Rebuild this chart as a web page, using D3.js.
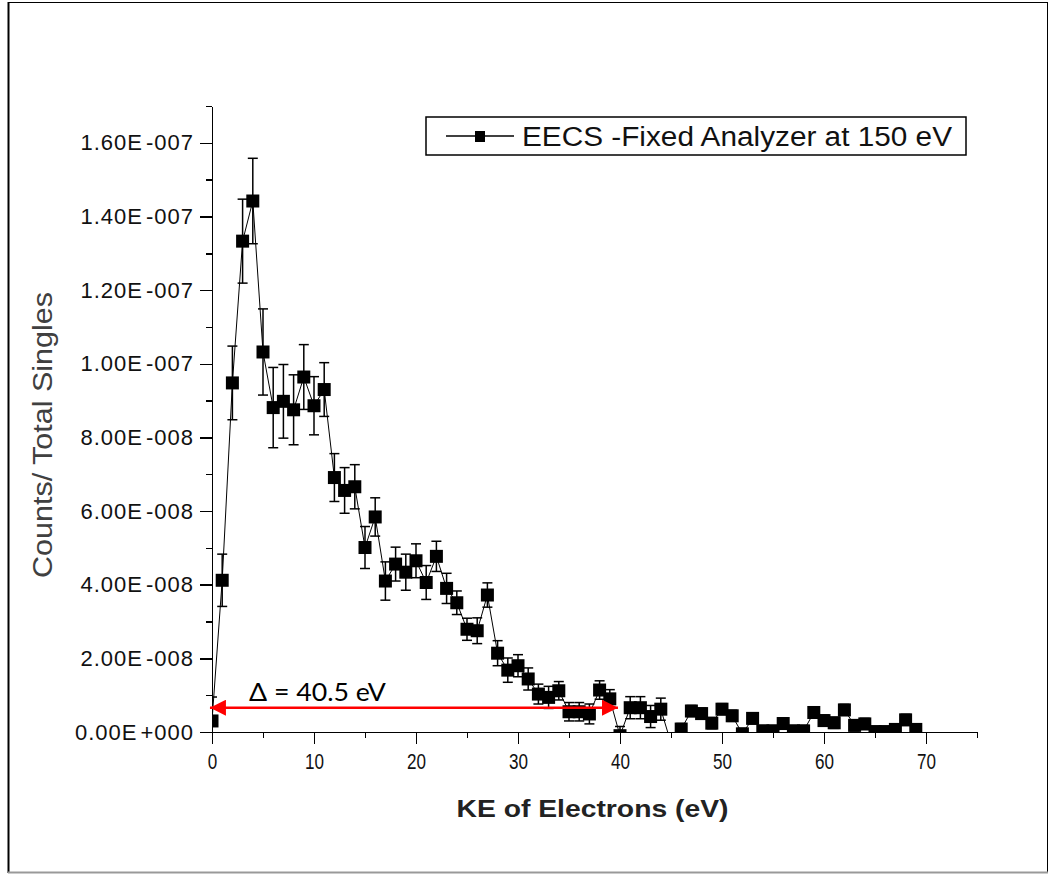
<!DOCTYPE html>
<meta charset="utf-8">
<style>
body { margin: 0; background: #fff; }

.axis path,
.axis line {
  fill: none;
  stroke: #000;
  stroke-width: 1.5;
  shape-rendering: crispEdges;
}
</style>
<body>
<div id="vis-container"></div>
<script src="https://d3js.org/d3.v7.min.js"></script>
<script>

// values (KE in eV, counts / total singles)
var ke = [0,1,2,3,4,5,6,7,8,9,10,11,12,13,14,15,16,17,18,19,20,21,22,23,24,25,26,27,28,29,
          30,31,32,33,34,35,36,37,38,39,40,41,42,43,44,45,46,47,48,49,50,51,52,53,54,55,56,57,58,59,
          60,61,62,63,64,65,66,67,68,69];
var counts = [0.30e-8,4.12e-8,9.48e-8,13.33e-8,14.42e-8,10.32e-8,8.81e-8,8.98e-8,8.75e-8,9.64e-8,
              8.86e-8,9.30e-8,6.91e-8,6.56e-8,6.66e-8,5.01e-8,5.84e-8,4.10e-8,4.56e-8,4.34e-8,
              4.65e-8,4.06e-8,4.77e-8,3.90e-8,3.51e-8,2.79e-8,2.75e-8,3.72e-8,2.14e-8,1.68e-8,
              1.80e-8,1.44e-8,1.03e-8,0.94e-8,1.12e-8,0.55e-8,0.55e-8,0.49e-8,1.14e-8,0.90e-8,
              -0.10e-8,0.66e-8,0.66e-8,0.42e-8,0.62e-8,-0.30e-8,0.08e-8,0.57e-8,0.50e-8,0.24e-8,
              0.62e-8,0.44e-8,-0.05e-8,0.37e-8,0.03e-8,0.03e-8,0.23e-8,0.03e-8,0.03e-8,0.53e-8,
              0.31e-8,0.25e-8,0.60e-8,0.18e-8,0.22e-8,0.01e-8,0.01e-8,0.07e-8,0.33e-8,0.07e-8];
var errors = [0.65e-8,0.71e-8,1.00e-8,1.14e-8,1.16e-8,1.17e-8,1.09e-8,1.00e-8,0.95e-8,0.88e-8,
              0.79e-8,0.73e-8,0.65e-8,0.62e-8,0.60e-8,0.57e-8,0.52e-8,0.52e-8,0.46e-8,0.49e-8,
              0.46e-8,0.46e-8,0.41e-8,0.41e-8,0.32e-8,0.30e-8,0.35e-8,0.33e-8,0.34e-8,0.33e-8,
              0.30e-8,0.30e-8,0.27e-8,0.30e-8,0.25e-8,0.25e-8,0.25e-8,0.27e-8,0.25e-8,0.25e-8,
              0.25e-8,0.30e-8,0.30e-8,0.30e-8,0.30e-8,0.15e-8,0.15e-8,0.15e-8,0.15e-8,0.15e-8,
              0.15e-8,0.15e-8,0.15e-8,0.15e-8,0.15e-8,0.15e-8,0.15e-8,0.15e-8,0.15e-8,0.15e-8,
              0.15e-8,0.15e-8,0.15e-8,0.15e-8,0.15e-8,0.15e-8,0.15e-8,0.15e-8,0.15e-8,0.15e-8];

var xMajor = [0,10,20,30,40,50,60,70];
var xMinor = [5,15,25,35,45,55,65,75];
var yMajor = [0,2e-8,4e-8,6e-8,8e-8,1.0e-7,1.2e-7,1.4e-7,1.6e-7];
var yMinor = [1e-8,3e-8,5e-8,7e-8,9e-8,1.1e-7,1.3e-7,1.5e-7,1.7e-7];

var xTitle = "KE of Electrons (eV)";
var yTitle = "Counts/ Total Singles";
var legendLabel = "EECS -Fixed Analyzer at 150 eV";
var deltaLabel = "\u0394 = 40.5 eV";
var arrowKE = [-0.2, 39.8];
var arrowLevel = 0.66e-8;

var W = 1051, H = 875;
var margin = {top: 106, right: 74, bottom: 143, left: 212};
var width = W - margin.left - margin.right,
    height = H - margin.top - margin.bottom;

var data = ke.map(function(k, i) { return {x: k, y: counts[i], e: errors[i]}; });

var svg = d3.select("#vis-container").append("svg")
  .attr("width", W)
  .attr("height", H);

// outer frame
svg.append("line").attr("x1", 8).attr("x2", 1048).attr("y1", 2.5).attr("y2", 2.5)
  .attr("stroke", "#000").attr("stroke-width", 1);
svg.append("line").attr("x1", 8.5).attr("x2", 8.5).attr("y1", 2).attr("y2", 873)
  .attr("stroke", "#000").attr("stroke-width", 2);
svg.append("line").attr("x1", 1047.5).attr("x2", 1047.5).attr("y1", 2).attr("y2", 873)
  .attr("stroke", "#000").attr("stroke-width", 1);
svg.append("line").attr("x1", 8).attr("x2", 1048).attr("y1", 872.5).attr("y2", 872.5)
  .attr("stroke", "#999").attr("stroke-width", 2);

var g = svg.append("g")
  .attr("transform", "translate(" + margin.left + "," + margin.top + ")");

var xScale = d3.scaleLinear().domain([0, 75]).range([0, width]);
var yScale = d3.scaleLinear().domain([0, 1.7e-7]).range([height, 0]);

g.append("clipPath").attr("id", "plot-clip")
  .append("rect").attr("width", width).attr("height", height);

var plot = g.append("g").attr("clip-path", "url(#plot-clip)");

// connecting line
plot.append("path")
  .datum(data)
  .attr("fill", "none")
  .attr("stroke", "#000")
  .attr("stroke-width", 1)
  .attr("d", d3.line().x(function(d) { return xScale(d.x); }).y(function(d) { return yScale(d.y); }));

// error bars
var bars = plot.selectAll(".err")
  .data(data)
  .enter().append("g")
  .attr("class", "err")
  .attr("stroke", "#000")
  .attr("stroke-width", 1.5);
bars.append("line")
  .attr("x1", function(d) { return xScale(d.x); })
  .attr("x2", function(d) { return xScale(d.x); })
  .attr("y1", function(d) { return yScale(d.y - d.e); })
  .attr("y2", function(d) { return yScale(d.y + d.e); });
bars.append("line")
  .attr("x1", function(d) { return xScale(d.x) - 5; })
  .attr("x2", function(d) { return xScale(d.x) + 5; })
  .attr("y1", function(d) { return yScale(d.y + d.e); })
  .attr("y2", function(d) { return yScale(d.y + d.e); });
bars.append("line")
  .attr("x1", function(d) { return xScale(d.x) - 5; })
  .attr("x2", function(d) { return xScale(d.x) + 5; })
  .attr("y1", function(d) { return yScale(d.y - d.e); })
  .attr("y2", function(d) { return yScale(d.y - d.e); });

// square markers
plot.selectAll(".dot")
  .data(data)
  .enter().append("rect")
  .attr("class", "dot")
  .attr("x", function(d) { return xScale(d.x) - 6.5; })
  .attr("y", function(d) { return yScale(d.y) - 6.5; })
  .attr("width", 13)
  .attr("height", 13)
  .attr("fill", "#000");

// x axis
g.append("g")
  .attr("class", "x axis")
  .attr("transform", "translate(0," + height + ")")
  .call(d3.axisBottom(xScale).tickValues(xMinor).tickSize(6).tickSizeOuter(0).tickFormat(""));
var xAxis = g.append("g")
  .attr("class", "x axis")
  .attr("transform", "translate(0," + height + ")")
  .call(d3.axisBottom(xScale).tickValues(xMajor).tickSize(12).tickPadding(9).tickSizeOuter(0));
xAxis.selectAll("text")
  .attr("font-family", "'Liberation Sans', Arial, sans-serif")
  .attr("font-size", 22)
  .attr("fill", "#111")
  .attr("textLength", function(d) { return String(d).length * 9.5; })
  .attr("lengthAdjust", "spacingAndGlyphs");

// y axis labels like 1.60E-007
var sci = function(v) {
  if (v === 0) return ["0.00E", "+000"];
  var e = Math.floor(Math.log10(v) + 1e-9);
  var m = v / Math.pow(10, e);
  return [m.toFixed(2) + "E", (e < 0 ? "-" : "+") + String(Math.abs(e)).padStart(3, "0")];
};

g.append("g")
  .attr("class", "y axis")
  .call(d3.axisLeft(yScale).tickValues(yMinor).tickSize(6).tickSizeOuter(0).tickFormat(""));
var yAxis = g.append("g")
  .attr("class", "y axis")
  .call(d3.axisLeft(yScale).tickValues(yMajor).tickSize(12).tickPadding(6).tickSizeOuter(0));
yAxis.selectAll(".tick text")
  .attr("font-family", "'Liberation Sans', Arial, sans-serif")
  .attr("font-size", 22)
  .attr("letter-spacing", 1)
  .attr("fill", "#111")
  .each(function(d) {
    var parts = sci(d);
    var t = d3.select(this).text(null);
    t.append("tspan").text(parts[0]);
    t.append("tspan").attr("dx", 3).text(parts[1]);
  });

// axis titles
g.append("text")
  .attr("x", width / 2 - 2)
  .attr("y", height + 85)
  .attr("text-anchor", "middle")
  .attr("font-family", "'Liberation Sans', Arial, sans-serif")
  .attr("font-weight", "bold")
  .attr("font-size", 24)
  .attr("fill", "#222")
  .attr("textLength", 272)
  .attr("lengthAdjust", "spacingAndGlyphs")
  .text(xTitle);

g.append("text")
  .attr("transform", "rotate(-90)")
  .attr("x", -(height / 2) - 16)
  .attr("y", -160)
  .attr("text-anchor", "middle")
  .attr("font-family", "'Liberation Sans', Arial, sans-serif")
  .attr("font-size", 27)
  .attr("fill", "#404040")
  .attr("textLength", 286)
  .attr("lengthAdjust", "spacingAndGlyphs")
  .text(yTitle);

// legend
var legend = svg.append("g").attr("class", "legend")
  .attr("transform", "translate(426,117)");
legend.append("rect")
  .attr("width", 540).attr("height", 38)
  .attr("fill", "#fff").attr("stroke", "#000").attr("stroke-width", 1.5);
legend.append("line")
  .attr("x1", 20).attr("x2", 88).attr("y1", 19).attr("y2", 19)
  .attr("stroke", "#000").attr("stroke-width", 1.5);
legend.append("rect")
  .attr("x", 49).attr("y", 14).attr("width", 10).attr("height", 11).attr("fill", "#000");
legend.append("text")
  .attr("x", 96).attr("y", 29)
  .attr("font-family", "'Liberation Sans', Arial, sans-serif")
  .attr("font-size", 27)
  .attr("fill", "#111")
  .attr("textLength", 430)
  .attr("lengthAdjust", "spacingAndGlyphs")
  .text(legendLabel);

// red double arrow with the delta label
var defs = svg.append("defs");
defs.append("marker")
  .attr("id", "head")
  .attr("viewBox", "0 0 16 16")
  .attr("refX", 16).attr("refY", 8)
  .attr("markerUnits", "userSpaceOnUse")
  .attr("markerWidth", 16).attr("markerHeight", 16)
  .attr("orient", "auto-start-reverse")
  .append("path").attr("d", "M0,0 L16,8 L0,16 Z").attr("fill", "#f00");

g.append("line")
  .attr("x1", xScale(arrowKE[0]))
  .attr("x2", xScale(arrowKE[1]))
  .attr("y1", yScale(arrowLevel))
  .attr("y2", yScale(arrowLevel))
  .attr("stroke", "#f00")
  .attr("stroke-width", 2.5)
  .attr("marker-start", "url(#head)")
  .attr("marker-end", "url(#head)");

g.append("text")
  .attr("x", xScale(arrowKE[0]) + 39)
  .attr("y", yScale(arrowLevel) - 7)
  .attr("font-family", "Lato, 'Open Sans', sans-serif")
  .attr("font-size", 25)
  .attr("fill", "#000")
  .attr("textLength", 137)
  .attr("lengthAdjust", "spacingAndGlyphs")
  .text(deltaLabel);

</script>
</body>
</html>
